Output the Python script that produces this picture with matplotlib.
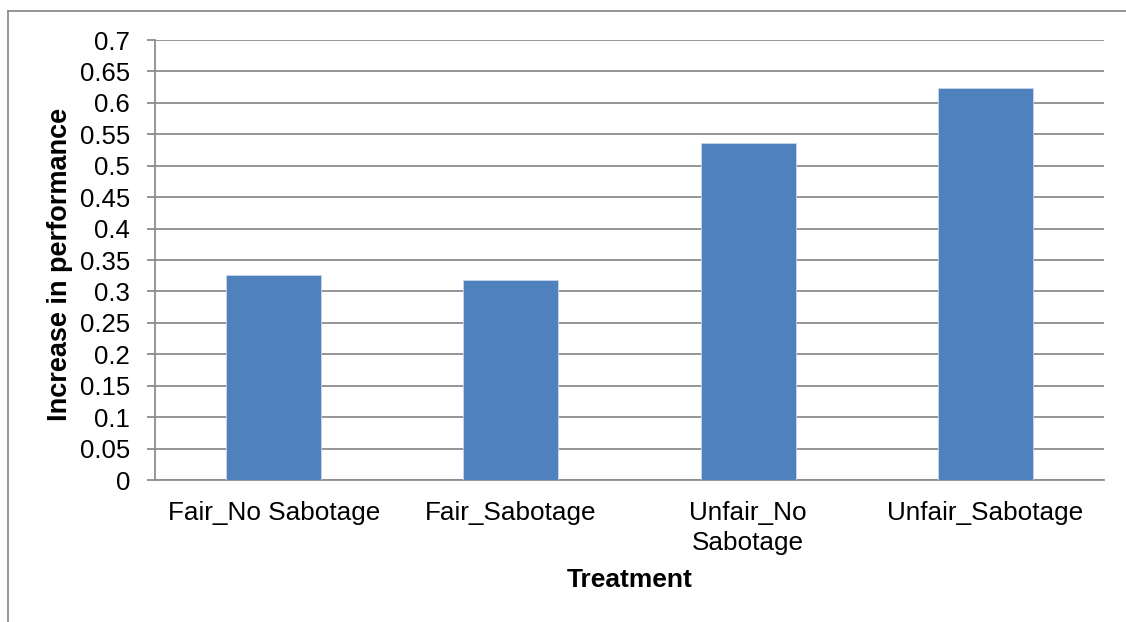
import numpy as np
import matplotlib
matplotlib.use("Agg")
import matplotlib.pyplot as plt
from matplotlib.lines import Line2D

plt.rcParams["font.family"] = ["Liberation Sans", "DejaVu Sans"]

# data
categories = ["Fair_No Sabotage", "Fair_Sabotage", "Unfair_No\nSabotage", "Unfair_Sabotage"]
values = [0.326, 0.318, 0.536, 0.624]
yticks = [0, 0.05, 0.1, 0.15, 0.2, 0.25, 0.3, 0.35, 0.4, 0.45, 0.5, 0.55, 0.6, 0.65, 0.7]
ytick_labels = ["0", "0.05", "0.1", "0.15", "0.2", "0.25", "0.3", "0.35",
                "0.4", "0.45", "0.5", "0.55", "0.6", "0.65", "0.7"]

W, H = 1126, 622
fig = plt.figure(figsize=(W / 100, H / 100), dpi=100)
ax = fig.add_axes([155 / W, 1 - 480 / H, (1104 - 155) / W, 440 / H])

grid_col = "#8c8c8c"
x = np.arange(len(categories))
ax.bar(x, values, width=0.4, color="#4f81bd", edgecolor="#c9d7ea", linewidth=0.6, zorder=3)

ax.set_xlim(-0.5, len(categories) - 0.5)
ax.set_ylim(0, 0.7)
ax.set_yticks(yticks)
ax.set_yticklabels(ytick_labels, fontsize=18.5)
ax.set_xticks(x)
ax.set_xticklabels(categories, fontsize=18.8, linespacing=1.3)

ax.yaxis.grid(True, color=grid_col, linewidth=1.3, zorder=0)
ax.set_axisbelow(True)
for side in ["top", "right"]:
    ax.spines[side].set_visible(False)
for side in ["left", "bottom"]:
    ax.spines[side].set_color(grid_col)
    ax.spines[side].set_linewidth(1.3)

ax.tick_params(axis="y", length=6, width=1.3, color=grid_col, pad=12)
ax.tick_params(axis="x", length=0, pad=15)

# axis titles
fig.text(60 / W, 1 - 264 / H, "Increase in performance", rotation=90,
         ha="center", va="center", fontsize=19.5, fontweight="bold")
fig.text(630 / W, 1 - 580 / H, "Treatment", ha="center", va="center",
         fontsize=19, fontweight="bold")

# outer chart border (only left and top visible)
fig.add_artist(Line2D([8 / W, 8 / W], [0, 1 - 11 / H], color=grid_col, linewidth=1.3,
                      transform=fig.transFigure))
fig.add_artist(Line2D([8 / W, 1], [1 - 11 / H, 1 - 11 / H], color=grid_col, linewidth=1.3,
                      transform=fig.transFigure))

fig.savefig("out.png", dpi=100)
